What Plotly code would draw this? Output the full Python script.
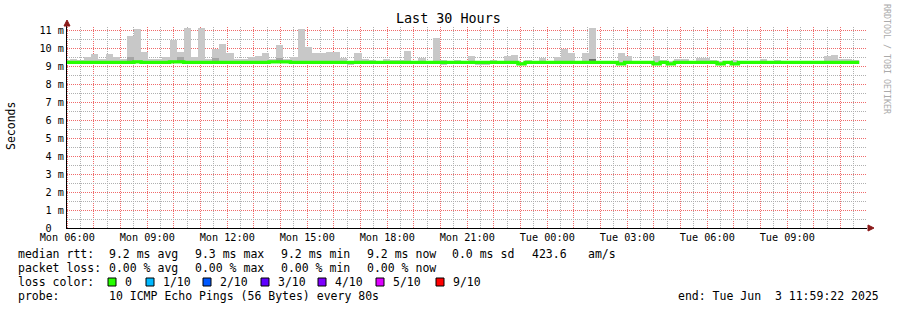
import plotly.graph_objects as go
from datetime import datetime, timedelta

# ---------------- data ----------------
x_tick_labels = ["Mon 06:00", "Mon 09:00", "Mon 12:00", "Mon 15:00",
                 "Mon 18:00", "Mon 21:00", "Tue 00:00", "Tue 03:00",
                 "Tue 06:00", "Tue 09:00"]
y_tick_values = [0, 1, 2, 3, 4, 5, 6, 7, 8, 9, 10, 11]
y_tick_labels = ["0\u00a0\u00a0", "1 m", "2 m", "3 m", "4 m", "5 m", "6 m",
                 "7 m", "8 m", "9 m", "10 m", "11 m"]

# smoke (max / min of the pings per 16 min step), in ms
rtt_max = [9.35, 9.40, 9.35, 9.50, 9.67, 9.40, 9.67, 9.50, 9.40, 10.67,
           11.05, 9.78, 9.40, 9.40, 9.50, 10.45, 9.78, 11.10, 9.50, 11.10,
           9.40, 9.95, 10.20, 9.70, 9.40, 9.40, 9.50, 9.55, 9.72, 9.40,
           10.17, 9.40, 9.50, 11.05, 10.05, 9.70, 9.75, 9.78, 9.78, 9.46,
           9.25, 9.72, 9.40, 9.33, 9.30, 9.38, 9.33, 9.33, 9.83, 9.30,
           9.44, 9.30, 10.55, 9.33, 9.30, 9.33, 9.30, 9.55, 9.30, 9.30,
           9.33, 9.30, 9.55, 9.60, 9.25, 9.33, 9.30, 9.44, 9.30, 9.50,
           9.94, 9.74, 9.30, 9.72, 11.10, 9.30, 9.30, 9.30, 9.72, 9.55,
           9.30, 9.30, 9.30, 9.55, 9.33, 9.30, 9.38, 9.38, 9.30, 9.44,
           9.44, 9.33, 9.30, 9.30, 9.33, 9.30, 9.30, 9.30, 9.38, 9.30,
           9.33, 9.30, 9.30, 9.30, 9.30, 9.30, 9.30, 9.55, 9.60, 9.38,
           9.38, 9.33]
rtt_min = [9.15, 9.15, 9.15, 9.15, 9.15, 9.15, 9.15, 9.15, 9.15, 9.15,
           9.15, 9.15, 9.15, 9.15, 9.15, 9.15, 9.15, 9.15, 9.15, 9.15,
           9.15, 9.15, 9.15, 9.15, 9.12, 9.12, 9.15, 9.15, 9.15, 9.15,
           9.15, 9.15, 9.15, 9.15, 9.15, 9.15, 9.15, 9.15, 9.15, 9.15,
           9.08, 9.15, 9.15, 9.15, 9.15, 9.10, 9.10, 9.15, 9.15, 9.15,
           9.15, 9.15, 9.15, 9.08, 9.15, 9.15, 9.15, 9.15, 9.08, 9.08,
           9.10, 9.15, 9.15, 9.15, 9.05, 9.15, 9.15, 9.15, 9.15, 9.15,
           9.15, 9.15, 9.15, 9.15, 9.15, 9.15, 9.15, 9.15, 9.05, 9.15,
           9.15, 9.15, 9.15, 9.05, 9.15, 9.05, 9.15, 9.15, 9.15, 9.15,
           9.15, 9.15, 9.05, 9.15, 9.05, 9.15, 9.15, 9.15, 9.15, 9.15,
           9.15, 9.15, 9.15, 9.15, 9.15, 9.15, 9.15, 9.15, 9.15, 9.15,
           9.15, 9.15]
rtt_median = [9.20, 9.20, 9.20, 9.20, 9.20, 9.20, 9.20, 9.20, 9.20, 9.20,
              9.23, 9.20, 9.20, 9.20, 9.20, 9.23, 9.23, 9.20, 9.20, 9.20,
              9.20, 9.20, 9.20, 9.20, 9.20, 9.20, 9.20, 9.20, 9.20, 9.23,
              9.23, 9.23, 9.20, 9.20, 9.20, 9.20, 9.20, 9.20, 9.20, 9.20,
              9.20, 9.20, 9.20, 9.20, 9.20, 9.20, 9.20, 9.20, 9.20, 9.20,
              9.20, 9.20, 9.20, 9.20, 9.20, 9.20, 9.20, 9.20, 9.20, 9.20,
              9.20, 9.20, 9.20, 9.20, 9.12, 9.20, 9.20, 9.20, 9.20, 9.20,
              9.20, 9.20, 9.20, 9.20, 9.20, 9.20, 9.20, 9.20, 9.12, 9.20,
              9.20, 9.20, 9.20, 9.12, 9.20, 9.12, 9.20, 9.20, 9.20, 9.20,
              9.20, 9.20, 9.12, 9.20, 9.12, 9.20, 9.20, 9.20, 9.20, 9.20,
              9.20, 9.20, 9.20, 9.20, 9.20, 9.20, 9.20, 9.20, 9.20, 9.20,
              9.20, 9.20]
# darker inner smoke on a few steps
dark_index = [9, 16, 21, 30, 74]
dark_top = [9.50, 9.50, 9.45, 9.45, 9.40]
dark_color = ["#a6a6a6", "#a6a6a6", "#a6a6a6", "#a6a6a6", "#6e6e6e"]

stats_rtt = ["9.2 ms avg", "9.3 ms max", "9.2 ms min", "9.2 ms now",
             "0.0 ms sd", "423.6", "am/s"]
stats_loss = ["0.00 % avg", "0.00 % max", "0.00 % min", "0.00 % now"]
loss_labels = ["0", "1/10", "2/10", "3/10", "4/10", "5/10", "9/10"]
loss_colors = ["#26ff00", "#00b8ff", "#0059ff", "#5e00ff", "#7e00ff",
               "#dd00ff", "#ff0000"]
probe_text = "10 ICMP Echo Pings (56 Bytes) every 80s"
end_text = "end: Tue Jun \u00a03 11:59:22 2025"

t_start = datetime(2025, 6, 2, 5, 59, 22)
t_end = datetime(2025, 6, 3, 11, 59, 22)
bar_origin = datetime(2025, 6, 2, 5, 50, 0)
step_min = 16

# ---------------- layout geometry ----------------
W, H = 897, 310
L, R, T, B = 67, 30, 26, 82
PW = W - L - R
PH = H - T - B
PX_PER_MS = 18.0
MONO = "DejaVu Sans Mono"


def ax(px):
    return (px - L) / PW


def ay(py):
    return (H - B - py) / PH


n = len(rtt_max)
centers = [bar_origin + timedelta(minutes=step_min * (k + 0.5)) for k in range(n)]
starts = [bar_origin + timedelta(minutes=step_min * k) for k in range(n + 1)]
bar_w = step_min * 60 * 1000

fig = go.Figure()
fig.add_trace(go.Bar(
    x=centers, base=rtt_min,
    y=[mx - mn for mx, mn in zip(rtt_max, rtt_min)],
    width=bar_w, marker=dict(color="#c8c8c8", line_width=0),
    hoverinfo="skip", showlegend=False))
fig.add_trace(go.Bar(
    x=[centers[i] for i in dark_index],
    base=[rtt_median[i] for i in dark_index],
    y=[top - rtt_median[i] for top, i in zip(dark_top, dark_index)],
    width=bar_w, marker=dict(color=dark_color, line_width=0),
    hoverinfo="skip", showlegend=False))
fig.add_trace(go.Scatter(
    x=starts, y=rtt_median + [rtt_median[-1]], mode="lines",
    line=dict(color=loss_colors[0], width=3.4, shape="hv"),
    hoverinfo="skip", showlegend=False))

# hourly ticks, labels every 3 hours
first_tick = datetime(2025, 6, 2, 6, 0)
hour_vals = [first_tick + timedelta(hours=h) for h in range(30)]
hour_text = [x_tick_labels[h // 3] if h % 3 == 0 else "" for h in range(30)]
half_vals = [first_tick + timedelta(minutes=30 + 60 * h) for h in range(30)]
y_half_vals = [v + 0.5 for v in y_tick_values]

MAJ = "#f06a6a"
MIN = "#b0b0b0"

fig.update_layout(
    width=W, height=H,
    margin=dict(l=L, r=R, t=T, b=B, pad=0),
    paper_bgcolor="white", plot_bgcolor="white",
    barmode="overlay", bargap=0,
    showlegend=False,
    font=dict(family=MONO, size=10.2, color="black"),
    xaxis=dict(
        type="date", range=[t_start, t_end],
        tickvals=hour_vals, ticktext=hour_text,
        showgrid=False,
        showline=True, linecolor="black", linewidth=1,
        ticks="", zeroline=False, tickangle=0,
        tickfont=dict(family=MONO, size=10.2),
        fixedrange=True,
    ),
    yaxis=dict(
        range=[0, PH / PX_PER_MS],
        tickvals=y_tick_values, ticktext=y_tick_labels,
        showgrid=True, gridcolor=MAJ, griddash="1px,1px", gridwidth=1,
        minor=dict(tickmode="array", tickvals=y_half_vals, showgrid=True,
                   gridcolor=MIN, griddash="1px,1px", gridwidth=1),
        showline=True, linecolor="black", linewidth=1,
        ticks="", zeroline=False,
        tickfont=dict(family=MONO, size=10.2),
        fixedrange=True,
    ),
)

shapes = []

# vertical time grid, snapped to whole pixels (as rrdtool does)
span = (t_end - t_start).total_seconds()


def grid_x(t):
    px = L + (t - t_start).total_seconds() / span * PW
    return ax(round(px - 0.5) + 0.5)


for vals, col in ((half_vals, MIN), (hour_vals, MAJ)):
    for t in vals:
        if t_start < t < t_end:
            xv = grid_x(t)
            shapes.append(dict(type="line", xref="paper", yref="paper",
                               x0=xv, x1=xv, y0=0, y1=1, layer="below",
                               line=dict(color=col, width=1, dash="1px,1px")))

ann = []


def text(s, px, py, size=11.5, anchor="left", color="black", angle=0):
    ann.append(dict(text=s, x=ax(px), y=ay(py), xref="paper", yref="paper",
                    showarrow=False, xanchor=anchor, yanchor="middle",
                    textangle=angle,
                    font=dict(family=MONO, size=size, color=color)))


text("Last 30 Hours", 448, 19, size=13.4, anchor="center")
text("Seconds", 11, 126, size=11.5, anchor="center", angle=-90)
text("RRDTOOL / TOBI OETIKER", 887, 59, size=8.3, anchor="center",
     color="#aaaaaa", angle=90)

row_y = [254, 268, 282, 296]
text("median rtt:", 16, row_y[0])
for s, px in zip(stats_rtt, [107, 193, 279, 365, 450, 530, 586]):
    text(s, px, row_y[0])
text("packet loss:", 16, row_y[1])
for s, px in zip(stats_loss, [107, 193, 279, 365]):
    text(s, px, row_y[1])
text("loss color:", 16, row_y[2])
sq_x = [108, 146, 203, 261, 318, 376, 436]
for lbl, col, px in zip(loss_labels, loss_colors, sq_x):
    shapes.append(dict(type="rect", xref="paper", yref="paper",
                       x0=ax(px), x1=ax(px + 8), y0=ay(286), y1=ay(278),
                       fillcolor=col, line=dict(color="black", width=1)))
    text(lbl, px + 15, row_y[2])
text("probe:", 16, row_y[3])
text(probe_text, 107, row_y[3])
text(end_text, 881, row_y[3], anchor="right")

# axis arrow heads
arrow = "#8b1a1a"
shapes.append(dict(type="path", xref="paper", yref="paper",
                   path=f"M {ax(64)} {ay(26)} L {ax(70)} {ay(26)} L {ax(67)} {ay(20)} Z",
                   fillcolor=arrow, line=dict(color=arrow, width=1)))
shapes.append(dict(type="path", xref="paper", yref="paper",
                   path=f"M {ax(868)} {ay(225)} L {ax(868)} {ay(231)} L {ax(874)} {ay(228)} Z",
                   fillcolor=arrow, line=dict(color=arrow, width=1)))

fig.update_layout(annotations=ann, shapes=shapes)
fig.write_html("out.html", config={"displayModeBar": False})
